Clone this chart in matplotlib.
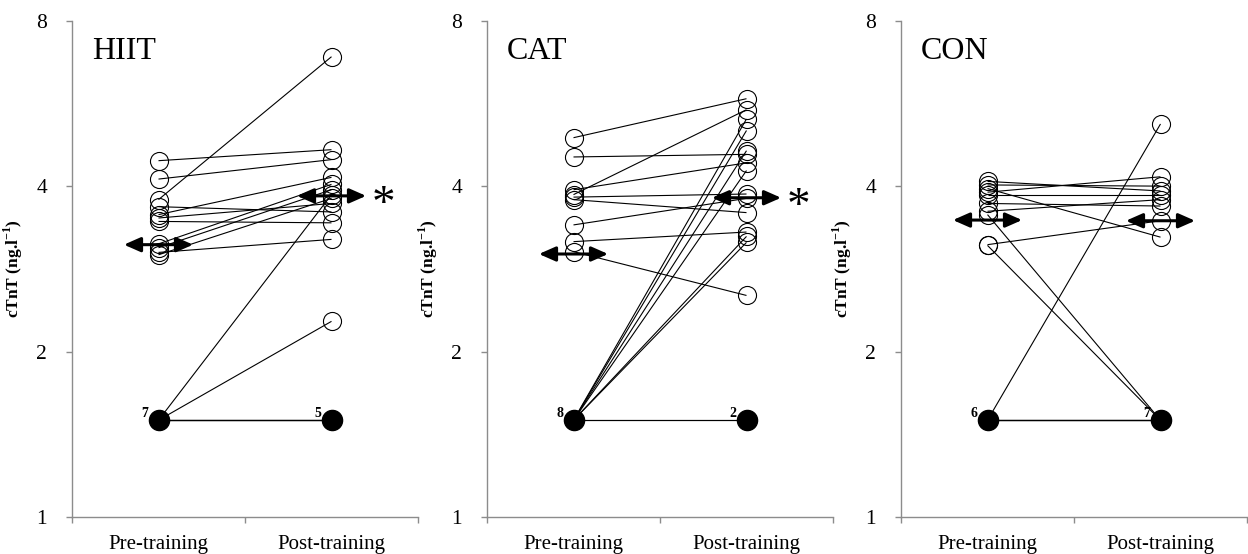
import matplotlib
matplotlib.use("Agg")
import matplotlib.pyplot as plt
from matplotlib.ticker import FixedLocator, FixedFormatter, NullLocator

# ---------------- data ----------------
groups = ["HIIT", "CAT", "CON"]
conditions = ["Pre-training", "Post-training"]
lod = 1.5  # values below detection limit plotted here (filled dots)

hiit_pre = [4.45, 4.12, 3.78, 3.67, 3.55, 3.50, 3.45, 3.14, 3.09, 3.03, 3.00,
            1.5, 1.5, 1.5, 1.5, 1.5, 1.5, 1.5]
hiit_post = [4.66, 4.47, 6.88, 3.59, 4.15, 3.72, 3.43, 4.03, 3.94, 3.20, 3.80,
             3.86, 2.27, 1.5, 1.5, 1.5, 1.5, 1.5]

cat_pre = [4.90, 4.52, 3.94, 3.86, 3.82, 3.78, 3.40, 3.17, 3.04,
           1.5, 1.5, 1.5, 1.5, 1.5, 1.5, 1.5, 1.5]
cat_post = [5.77, 4.57, 4.41, 5.51, 3.87, 3.58, 3.80, 3.30, 2.53,
            5.30, 5.05, 4.64, 4.27, 3.24, 3.16, 1.5, 1.5]

con_pre = [4.08, 4.02, 3.96, 3.90, 3.86, 3.72, 3.60, 3.55, 3.13, 3.12,
           1.5, 1.5, 1.5, 1.5, 1.5, 1.5]
con_post = [3.92, 4.00, 3.23, 4.16, 3.86, 3.68, 3.78, 1.5, 3.46, 1.5,
            5.19, 1.5, 1.5, 1.5, 1.5, 1.5]

hiit_mean = [3.13, 3.84]
cat_mean = [3.01, 3.81]
con_mean = [3.47, 3.46]

group_sig = [True, True, False]

y_ticks = [1, 2, 4, 8]
y_ticklabels = ["1", "2", "4", "8"]

pre_sets = [hiit_pre, cat_pre, con_pre]
post_sets = [hiit_post, cat_post, con_post]
mean_sets = [hiit_mean, cat_mean, con_mean]

# ---------------- figure ----------------
W, H = 1248, 554
serif = ["Liberation Serif", "DejaVu Serif"]
plt.rcParams["font.family"] = serif
plt.rcParams["mathtext.fontset"] = "custom"
plt.rcParams["mathtext.rm"] = "Liberation Serif"
plt.rcParams["mathtext.bf"] = "Liberation Serif:bold"
fig = plt.figure(figsize=(W / 100, H / 100), dpi=100)

axis_left_px = [72, 487, 901]
axis_w_px = 346
axis_top_px, axis_bot_px = 20.7, 517
grey = "#8c8c8c"

for gi, grp in enumerate(groups):
    left = axis_left_px[gi] / W
    bottom = (H - axis_bot_px) / H
    height = (axis_bot_px - axis_top_px) / H
    ax = fig.add_axes([left, bottom, axis_w_px / W, height])
    ax.set_yscale("log", base=2)
    ax.set_ylim(1, 8)
    ax.set_xlim(0, 2)

    pre = pre_sets[gi]
    post = post_sets[gi]
    xs = [0.5, 1.5]

    # connecting lines
    for a, b in zip(pre, post):
        ax.plot(xs, [a, b], color="black", lw=0.8, zorder=2, solid_capstyle="butt")

    # markers
    for xi, vals in zip(xs, [pre, post]):
        open_v = [v for v in vals if v != lod]
        n_lod = sum(1 for v in vals if v == lod)
        ax.plot([xi] * len(open_v), open_v, linestyle="none", marker="o",
                markersize=13, markerfacecolor="none", markeredgecolor="black",
                markeredgewidth=0.8, zorder=3)
        if n_lod:
            ax.plot([xi], [lod], linestyle="none", marker="o", markersize=14.5,
                    markerfacecolor="black", markeredgecolor="black", zorder=4)
            ax.annotate(str(n_lod), xy=(xi, lod), xytext=(-10, 5),
                        textcoords="offset points", ha="center", va="center",
                        fontsize=10, fontweight="bold", zorder=5)

    # mean arrows
    for xi, m in zip(xs, mean_sets[gi]):
        ax.annotate("", xy=(xi - 0.2, m), xytext=(xi + 0.2, m),
                    arrowprops=dict(arrowstyle="<|-|>,head_length=0.5,head_width=0.22",
                                    color="black", lw=2.2,
                                    mutation_scale=20, shrinkA=0, shrinkB=0),
                    zorder=6)
    if group_sig[gi]:
        ax.annotate("*", xy=(1.7, mean_sets[gi][1]), xytext=(4, -7),
                    textcoords="offset points", ha="left", va="center",
                    fontsize=34, zorder=6)

    # title
    ax.text(0.058, 0.923, grp, transform=ax.transAxes, fontsize=23,
            ha="left", va="baseline")

    # axes styling
    for s in ["top", "right"]:
        ax.spines[s].set_visible(False)
    for s in ["left", "bottom"]:
        ax.spines[s].set_color(grey)
        ax.spines[s].set_linewidth(1.0)
    ax.yaxis.set_major_locator(FixedLocator(y_ticks))
    ax.yaxis.set_major_formatter(FixedFormatter(y_ticklabels))
    ax.yaxis.set_minor_locator(NullLocator())
    ax.tick_params(axis="y", which="major", length=4, width=1.0, color=grey,
                   pad=14, labelsize=15.5)
    ax.xaxis.set_major_locator(FixedLocator([0, 1, 2]))
    ax.xaxis.set_major_formatter(FixedFormatter(["", "", ""]))
    ax.xaxis.set_minor_locator(FixedLocator(xs))
    ax.xaxis.set_minor_formatter(FixedFormatter(conditions))
    ax.tick_params(axis="x", which="major", length=4, width=1.0, color=grey)
    ax.tick_params(axis="x", which="minor", length=0, pad=13, labelsize=15)

    ax.set_ylabel("cTnT (ng.l$^{\\mathbf{-1}}$)", fontsize=12.5, fontweight="bold")
    ax.yaxis.set_label_coords(-47 / axis_w_px, 0.5)

fig.savefig("out.png", dpi=100)
